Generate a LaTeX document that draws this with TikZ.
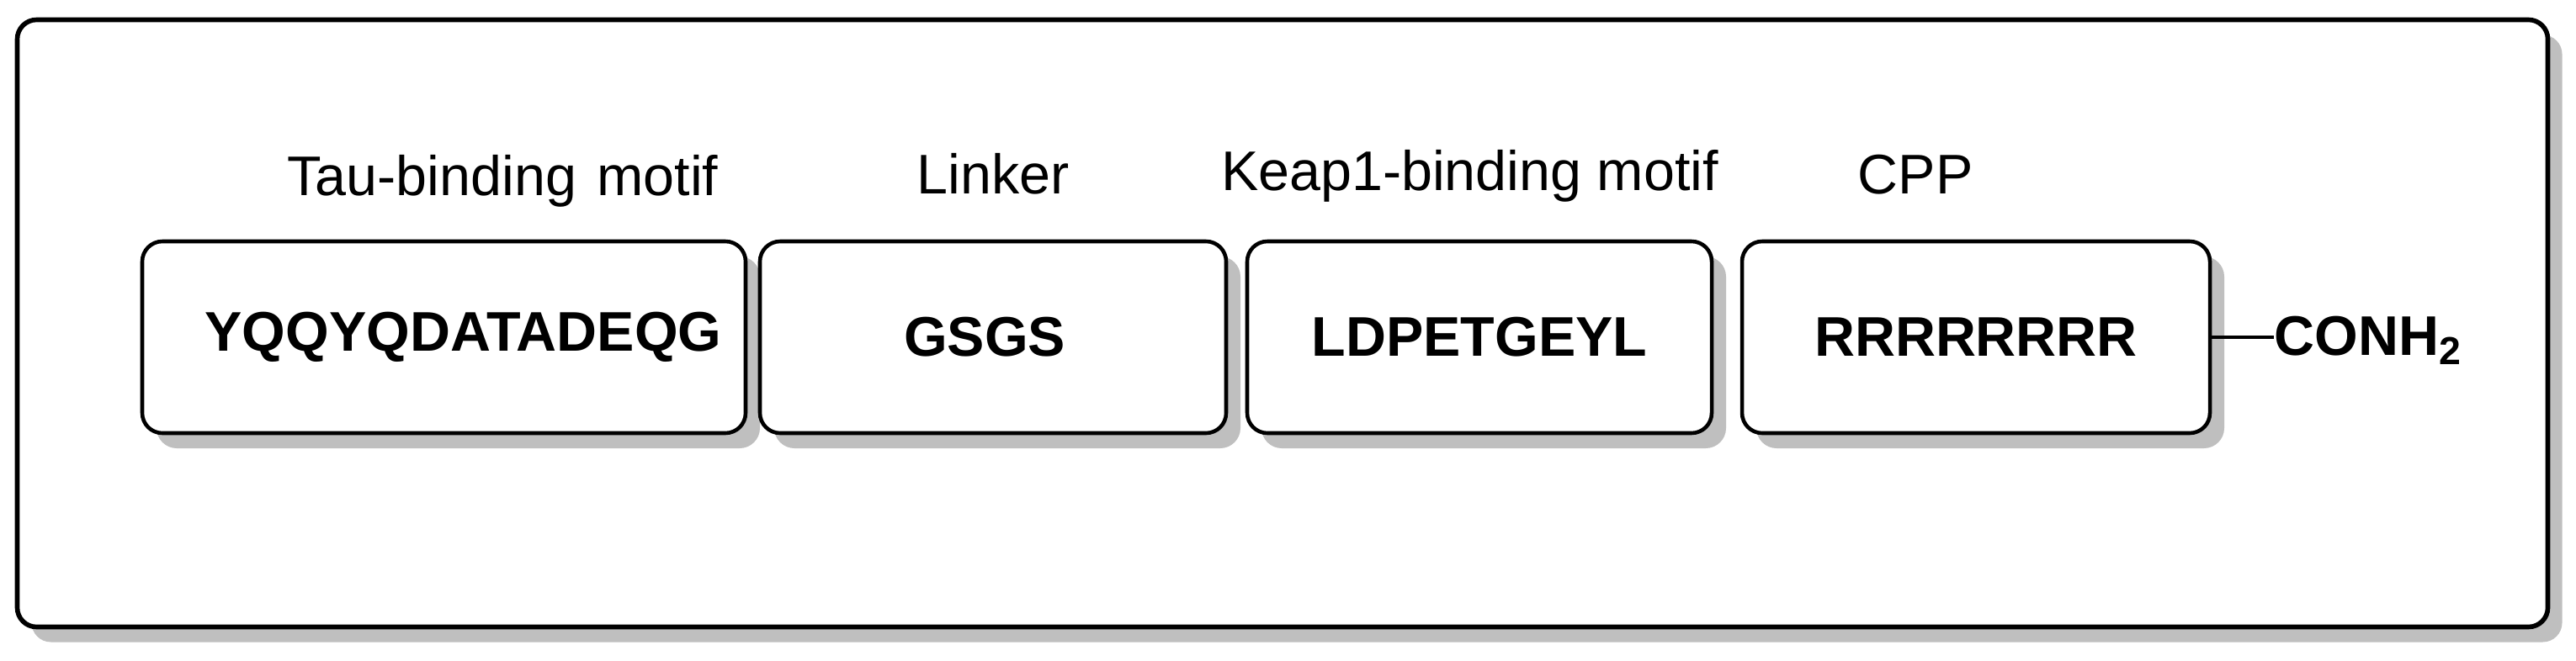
\documentclass[tikz,border=0pt]{standalone}
\usepackage{fontspec}
\setmainfont{Liberation Sans}
\usetikzlibrary{positioning,shadows}

\begin{document}
\begin{tikzpicture}[node distance=0.17cm,
    grey shadow/.style={drop shadow={shadow xshift=0.17cm,shadow yshift=-0.18cm,fill=black!25,opacity=1}},
    seq box/.style={draw,line width=1.3pt,rounded corners=0.24cm,fill=white,grey shadow,
      minimum height=2.28cm,inner sep=0pt,outer sep=0pt,font=\fontsize{18.9}{22}\selectfont\bfseries},
    part label/.style={font=\fontsize{18.9}{22}\selectfont,inner sep=0pt,anchor=base}]
  \useasboundingbox (0,0) rectangle (30.61,-7.85);

  % frame
  \draw[line width=1.6pt,rounded corners=0.23cm,fill=white,grey shadow]
    (0.205,-0.235) rectangle (30.275,-7.455);

  % peptide segments
  \node[seq box,minimum width=7.17cm] (tau) at (5.275,-4.01) {\hspace*{0.46cm}YQQYQDATADEQG};
  \node[seq box,minimum width=5.54cm,right=0.17cm of tau] (linker) {GSGS\hspace*{0.2cm}};
  \node[seq box,minimum width=5.52cm,right=0.25cm of linker] (keap) {LDPETGEYL};
  \node[seq box,minimum width=5.56cm,right=0.36cm of keap] (cpp) {RRRRRRRR};

  % labels
  \node[part label] (taulbl) at (5.975,-2.32) {Tau-binding\hspace{0.37em}motif};
  \node[part label] (linkerlbl) at (11.80,-2.30) {Linker};
  \node[part label] (keaplbl) at (17.465,-2.26) {Keap1-binding motif};
  \node[part label] (cpplbl) at (22.76,-2.30) {CPP};

  % C-terminal amide
  \node[part label,anchor=base west,font=\fontsize{18.9}{22}\selectfont\bfseries] (amide) at (27.02,-4.22) {CONH\textsubscript{2}};
  \draw[line width=1pt] (cpp.east) -- (cpp.east -| amide.west);
\end{tikzpicture}
\end{document}
